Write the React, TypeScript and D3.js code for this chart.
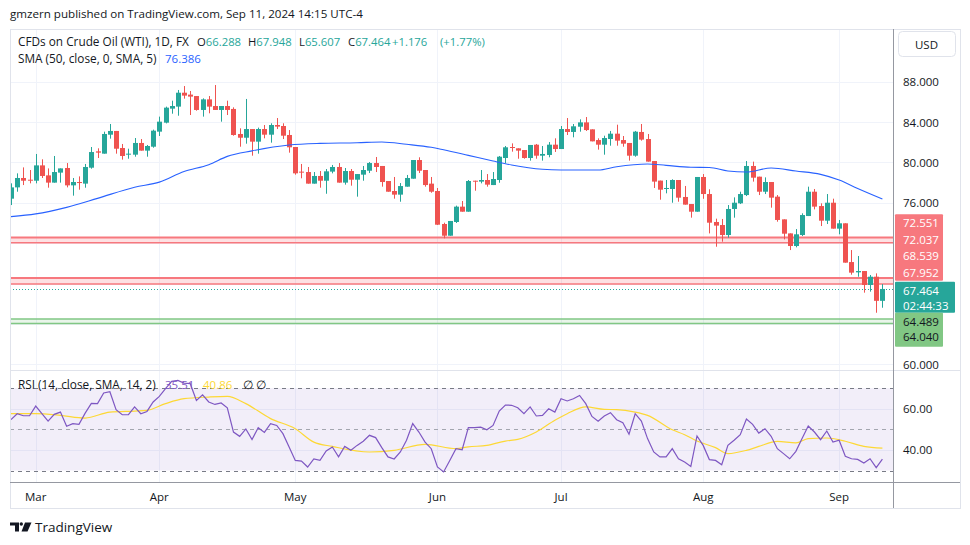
import * as d3 from "d3";

const FONT = "'Open Sans', sans-serif";
const UP = "#26a69a";
const DOWN = "#ef5350";
const TEXT = "#131722";

// trading days shown: Feb 26 – Sep 11 2024 (Good Friday closed)
const dates = d3.timeDay
  .range(new Date(2024, 1, 26), new Date(2024, 8, 12))
  .filter((d) => d.getDay() % 6 !== 0 && +d !== +new Date(2024, 2, 29));

// [open, high, low, close]
const ohlc: [number, number, number, number][] = [
  [76.41, 77.93, 75.78, 77.53], [77.53, 78.92, 77.1, 78.46], [78.46, 79.51, 77.76, 78.19], [78.29, 79.25, 77.93, 78.19],
  [78.19, 80.84, 77.93, 79.71], [79.71, 80.31, 78.46, 78.66], [78.72, 79.41, 77.5, 78.0], [78.0, 80.64, 78.0, 79.05],
  [78.99, 79.41, 78.0, 79.41], [79.45, 79.94, 77.53, 77.73], [77.73, 78.46, 76.71, 78.06], [78.06, 78.62, 77.3, 77.96],
  [77.9, 79.85, 77.5, 79.55], [79.48, 81.53, 79.38, 81.03], [81.1, 81.4, 80.44, 80.97], [80.87, 83.05, 80.87, 82.82],
  [82.75, 83.81, 82.36, 83.12], [83.12, 83.12, 80.87, 81.36], [81.43, 81.83, 80.28, 80.64], [80.77, 81.36, 80.37, 80.87],
  [80.77, 82.42, 80.57, 81.93], [81.93, 82.32, 81.17, 81.17], [81.17, 81.73, 80.57, 81.63], [81.56, 83.25, 81.46, 83.15],
  [83.05, 84.54, 82.62, 84.04], [83.94, 85.53, 83.87, 85.43], [85.33, 86.12, 84.83, 85.59], [85.53, 87.18, 84.63, 86.91],
  [86.91, 87.57, 86.32, 86.62], [86.72, 87.08, 84.7, 86.52], [86.58, 86.58, 85.13, 85.2], [85.2, 86.35, 84.54, 86.25],
  [86.25, 86.58, 84.87, 85.53], [85.59, 87.67, 85.2, 85.2], [85.2, 85.59, 84.04, 85.59], [85.59, 86.12, 84.7, 85.2],
  [85.3, 85.46, 82.65, 82.72], [82.82, 83.38, 81.56, 82.45], [82.45, 86.29, 81.86, 83.31], [83.31, 83.31, 80.67, 82.06],
  [82.06, 83.45, 80.87, 83.31], [83.31, 83.71, 82.39, 82.75], [82.75, 83.88, 81.96, 83.71], [83.71, 84.4, 83.31, 83.55],
  [83.61, 83.88, 82.32, 82.65], [82.72, 83.21, 80.97, 81.5], [81.53, 81.53, 78.79, 78.92], [79.09, 79.85, 78.43, 78.99],
  [79.05, 79.55, 77.9, 77.9], [77.9, 79.05, 77.9, 78.66], [78.66, 79.15, 77.5, 78.19], [78.19, 79.35, 76.9, 79.12],
  [79.09, 79.75, 78.92, 79.55], [79.55, 79.94, 78.0, 78.0], [78.0, 79.45, 77.8, 79.15], [79.15, 79.35, 77.7, 78.29],
  [78.29, 78.85, 76.61, 78.85], [78.79, 79.65, 78.19, 79.25], [79.18, 80.04, 78.95, 79.94], [79.94, 80.54, 79.05, 79.55],
  [79.65, 79.65, 77.6, 78.06], [78.16, 78.16, 77.1, 77.1], [77.17, 78.56, 76.41, 76.81], [76.81, 77.96, 76.11, 77.66],
  [77.6, 78.76, 77.6, 78.46], [78.39, 80.24, 78.39, 80.24], [80.24, 80.51, 78.95, 79.18], [79.25, 79.25, 77.6, 77.76],
  [77.9, 78.56, 77.0, 77.1], [77.17, 77.47, 73.8, 73.83], [73.9, 74.03, 72.48, 72.74], [72.74, 74.2, 72.74, 74.2],
  [74.1, 75.72, 74.0, 75.62], [75.62, 76.18, 75.12, 75.12], [75.12, 78.26, 75.12, 78.16], [78.19, 78.19, 77.2, 78.13],
  [78.1, 79.25, 77.93, 78.26], [78.26, 78.85, 77.6, 77.8], [77.76, 79.05, 77.76, 78.36], [78.26, 80.64, 77.99, 80.57],
  [80.44, 81.63, 79.91, 81.5], [81.53, 81.89, 81.07, 81.43], [81.4, 81.4, 80.37, 81.17], [81.23, 81.23, 80.37, 80.44],
  [80.44, 81.73, 80.18, 81.73], [81.76, 81.83, 80.37, 80.67], [80.67, 81.63, 80.18, 80.84], [80.74, 82.02, 80.51, 81.76],
  [81.76, 82.39, 81.04, 81.33], [81.33, 83.61, 81.33, 83.31], [83.31, 84.4, 82.72, 83.02], [83.02, 83.81, 82.49, 83.58],
  [83.54, 84.27, 83.05, 83.97], [83.97, 84.5, 83.12, 83.21], [83.28, 83.28, 82.09, 82.09], [82.22, 82.39, 81.27, 81.76],
  [81.76, 82.65, 80.77, 82.42], [82.32, 83.12, 81.66, 82.85], [82.85, 83.74, 81.66, 82.16], [82.22, 82.62, 81.56, 81.86],
  [81.93, 81.93, 80.18, 80.67], [80.67, 83.12, 80.57, 83.05], [83.02, 83.81, 82.16, 82.26], [82.32, 82.82, 80.08, 80.08],
  [80.14, 80.14, 77.47, 78.1], [78.2, 78.2, 76.31, 77.3], [77.37, 78.26, 76.94, 77.47], [77.37, 78.33, 76.01, 78.26],
  [78.26, 78.26, 76.11, 76.51], [76.58, 77.67, 75.82, 75.82], [75.88, 75.88, 74.53, 75.12], [75.12, 78.56, 75.12, 78.56],
  [78.56, 78.85, 76.4, 76.87], [76.87, 77.34, 72.97, 74.03], [74.1, 74.43, 71.65, 73.74], [73.8, 74.4, 72.15, 72.81],
  [72.81, 75.78, 72.55, 75.39], [75.39, 76.54, 74.53, 76.01], [75.95, 77.1, 75.88, 76.87], [76.77, 80.14, 76.67, 79.65],
  [79.65, 80.08, 78.1, 78.49], [78.59, 78.59, 76.77, 77.1], [77.1, 78.52, 76.87, 78.06], [78.06, 78.06, 75.52, 76.51],
  [76.61, 76.77, 74.13, 74.3], [74.36, 74.36, 72.38, 72.94], [72.97, 72.97, 71.32, 71.72], [71.72, 73.4, 71.59, 72.88],
  [72.81, 74.96, 72.71, 74.79], [74.69, 77.6, 74.69, 77.1], [77.1, 77.37, 75.35, 75.62], [75.68, 75.95, 73.7, 74.23],
  [74.23, 76.87, 73.9, 76.01], [76.01, 76.41, 73.44, 73.44], [73.44, 74.3, 72.88, 73.97], [73.97, 73.97, 70.07, 70.07],
  [70.13, 71.32, 68.88, 69.08], [69.11, 70.73, 68.68, 69.24], [69.24, 69.24, 67.1, 67.86], [67.86, 68.85, 67.2, 68.68],
  [68.68, 69.01, 65.11, 66.288], [66.288, 67.948, 65.607, 67.464],
];

// SMA(50): [bar index, value]
const sma50: [number, number][] = [
  [0, 74.63], [4, 74.9], [9, 75.55], [14, 76.44], [20, 77.55], [24, 78.05], [28, 79.1], [32, 79.78],
  [35, 80.6], [39, 81.15], [45, 81.73], [50, 81.89], [56, 81.95], [60, 82.03], [64, 81.8], [68, 81.5],
  [70, 81.25], [74, 80.7], [78, 80.14], [81, 79.75], [86, 79.32], [89, 79.25], [95, 79.25], [98, 79.58],
  [103, 79.85], [106, 79.71], [110, 79.52], [113, 79.5], [116, 79.15], [119, 79.05], [123, 79.45],
  [127, 79.15], [131, 78.82], [134, 78.26], [137, 77.43], [141, 76.386],
];

const rsi = [
  54.7, 57.6, 56.6, 56.6, 61.3, 57.6, 54.0, 57.3, 58.4, 51.5,
  52.8, 52.4, 57.9, 62.6, 62.5, 67.7, 68.3, 59.6, 57.1, 57.1,
  60.9, 57.6, 58.7, 63.3, 66.0, 69.8, 73.3, 73.8, 72.5, 72.2,
  64.1, 66.8, 63.3, 62.1, 62.8, 60.5, 48.7, 46.6, 50.2, 45.1,
  50.8, 48.5, 52.8, 51.9, 47.9, 41.4, 34.9, 34.6, 31.7, 35.6,
  34.9, 39.5, 41.4, 36.6, 41.7, 39.8, 42.2, 44.2, 47.1, 46.0,
  41.1, 36.6, 35.6, 39.0, 44.7, 52.8, 48.7, 43.8, 40.6, 31.7,
  29.3, 34.9, 40.6, 40.1, 50.8, 50.8, 51.1, 49.8, 51.9, 58.9,
  61.8, 61.7, 60.5, 57.6, 60.9, 56.5, 56.8, 60.0, 58.4, 64.9,
  63.8, 64.9, 66.5, 62.5, 56.3, 54.0, 56.5, 58.1, 54.7, 53.2,
  47.6, 57.6, 54.0, 45.5, 39.0, 36.6, 36.6, 40.6, 35.7, 34.1,
  32.0, 46.8, 42.2, 35.3, 34.9, 32.8, 42.2, 44.7, 47.4, 55.0,
  52.4, 48.2, 50.3, 46.6, 40.6, 38.2, 35.7, 39.3, 45.5, 51.6,
  48.7, 45.0, 49.2, 43.8, 44.7, 36.9, 35.7, 35.4, 33.6, 35.7,
  31.4, 35.51,
];

// RSI smoothing line: [bar index, value]
const rsiMa: [number, number][] = [
  [0, 57.6], [4, 57.6], [8, 56.8], [12, 55.5], [16, 58.4], [20, 58.9], [22, 59.2], [25, 62.5],
  [28, 64.9], [32, 65.7], [35, 66.0], [38, 62.5], [42, 55.2], [46, 50.3], [49, 43.8], [52, 41.7],
  [58, 39.0], [62, 39.8], [67, 42.7], [72, 40.6], [74, 41.5], [77, 42.2], [80, 44.3], [82, 45.1],
  [85, 48.7], [88, 54.4], [90, 57.6], [93, 60.9], [96, 59.7], [98, 59.6], [101, 58.4], [103, 56.8],
  [107, 49.8], [109, 47.4], [111, 44.3], [114, 41.1], [116, 38.2], [119, 39.8], [121, 41.7],
  [124, 44.2], [127, 43.4], [129, 45.5], [132, 45.8], [135, 44.2], [138, 41.7], [141, 40.86],
];

const priceTicks = [88, 84, 80, 76, 60];
const priceGrid = [88, 84, 80, 76, 72, 68, 64, 60];
const redBands: [number, number][] = [[72.551, 72.037], [68.539, 67.952]];
const greenBand: [number, number] = [64.489, 64.04];
const redLabels = ["72.551", "72.037", "68.539", "67.952"];
const greenLabels = ["64.489", "64.040"];
const lastPrice = 67.464;
const countdown = "02:44:33";
const rsiTicks = [60, 40];
const rsiLevels = [70, 50, 30];

export default function App() {
  const L = 10, R = 893, T = 29, PANE = 370, AX = 482.5, B = 508, FR = 960;

  const x = d3.scaleLinear().domain([0, dates.length - 1]).range([11, 882.4]);
  const y = d3.scaleLinear().domain([60, 88]).range([364.3, 81.7]);
  const ry = d3.scaleLinear().domain([30, 70]).range([470.5, 388.2]);
  const crisp = (v: number) => Math.round(v) + 0.5;

  const months = dates
    .map((d, i) => ({ d, i }))
    .filter(({ d, i }) => i > 0 && d.getMonth() !== dates[i - 1].getMonth());
  const fmt = d3.timeFormat("%b");

  const smaPath = d3.line<[number, number]>().x((d) => x(d[0])).y((d) => y(d[1])).curve(d3.curveMonotoneX)(sma50) || "";
  const rsiPath = d3.line<number>().x((_, i) => x(i)).y((d) => ry(d))(rsi) || "";
  const rsiMaPath = d3.line<[number, number]>().x((d) => x(d[0])).y((d) => ry(d[1])).curve(d3.curveMonotoneX)(rsiMa) || "";

  return (
    <svg width={970} height={545} style={{ position: "absolute", left: 0, top: 0, background: "#fff" }} fontFamily={FONT}>
      <defs>
        <clipPath id="main"><rect x={L} y={T} width={R - L} height={PANE - T} /></clipPath>
        <clipPath id="osc"><rect x={L} y={PANE} width={R - L} height={AX - PANE} /></clipPath>
      </defs>

      <text x={10} y={18} fontSize={11.6} fill={TEXT}>gmzern published on TradingView.com, Sep 11, 2024 14:15 UTC-4</text>

      {/* grid */}
      {priceGrid.map((p) => (
        <line key={p} x1={L} x2={R} y1={crisp(y(p))} y2={crisp(y(p))} stroke="#f0f3fa" />
      ))}
      {rsiTicks.map((v) => (
        <line key={v} x1={L} x2={R} y1={crisp(ry(v))} y2={crisp(ry(v))} stroke="#f0f3fa" />
      ))}
      {months.map(({ i }) => (
        <line key={i} x1={crisp(x(i))} x2={crisp(x(i))} y1={T} y2={AX} stroke="#f0f3fa" />
      ))}

      {/* price pane */}
      <g clipPath="url(#main)">
        {redBands.map(([a, b]) => (
          <g key={a}>
            <rect x={L} width={R - L} y={y(a)} height={y(b) - y(a)} fill="rgba(242,54,69,0.15)" />
            <line x1={L} x2={R} y1={y(a)} y2={y(a)} stroke="#f7787e" strokeWidth={2} />
            <line x1={L} x2={R} y1={y(b)} y2={y(b)} stroke="#f7787e" strokeWidth={1.5} />
          </g>
        ))}
        <rect x={L} width={R - L} y={y(greenBand[0])} height={y(greenBand[1]) - y(greenBand[0])} fill="rgba(76,175,80,0.12)" />
        {greenBand.map((p) => (
          <line key={p} x1={L} x2={R} y1={y(p)} y2={y(p)} stroke="#81c784" strokeWidth={1.5} />
        ))}
        <line x1={L} x2={R} y1={crisp(y(lastPrice))} y2={crisp(y(lastPrice))} stroke={UP} strokeDasharray="1 2" />

        {ohlc.map(([o, h, l, c], i) => {
          const col = c >= o ? UP : DOWN;
          const cx = Math.round(x(i));
          const top = y(Math.max(o, c));
          const bh = Math.max(1, y(Math.min(o, c)) - top);
          return (
            <g key={i} fill={col} stroke="none">
              <rect x={cx} y={y(h)} width={1} height={y(l) - y(h)} />
              <rect x={cx - 2} y={top} width={5} height={bh} />
            </g>
          );
        })}
        <path d={smaPath} fill="none" stroke="#2962ff" strokeWidth={1.1} />
      </g>

      {/* legend */}
      <text x={18} y={46} fontSize={11.8} fill={TEXT}>CFDs on Crude Oil (WTI), 1D, FX</text>
      {[["O", "66.288", 197], ["H", "67.948", 248], ["L", "65.607", 299], ["C", "67.464", 348]].map(([k, v, px]) => (
        <text key={k as string} x={px as number} y={46} fontSize={11.3} fill={TEXT}>
          {k}<tspan fill={UP}>{v}</tspan>
        </text>
      ))}
      <text x={392} y={46} fontSize={11.3} fill={UP}>+1.176</text>
      <text x={440} y={46} fontSize={11.3} fill={UP}>(+1.77%)</text>
      <text x={18} y={63} fontSize={11.8} fill={TEXT}>SMA (50, close, 0, SMA, 5)</text>
      <text x={165} y={63} fontSize={11.5} fill="#2962ff">76.386</text>

      {/* RSI pane */}
      <g clipPath="url(#osc)">
        <rect x={L} width={R - L} y={ry(70)} height={ry(30) - ry(70)} fill="rgba(126,87,194,0.1)" />
        {rsiLevels.map((v) => (
          <line key={v} x1={L} x2={R} y1={crisp(ry(v))} y2={crisp(ry(v))}
            stroke={v === 50 ? "#a3a6af" : "#787b86"} strokeDasharray="4 4" />
        ))}
        <path d={rsiMaPath} fill="none" stroke="#fdd835" strokeWidth={1.2} />
        <path d={rsiPath} fill="none" stroke="#7e57c2" strokeWidth={1.2} />
      </g>
      <text x={18} y={389} fontSize={11.8} fill={TEXT}>RSI (14, close, SMA, 14, 2)</text>
      <text x={165} y={389} fontSize={11.5} fill="#7e57c2">35.51</text>
      <text x={203} y={389} fontSize={11.5} fill="#fdd835">40.86</text>
      <text x={243} y={389} fontSize={11.5} fill={TEXT}>∅</text>
      <text x={256} y={389} fontSize={11.5} fill={TEXT}>∅</text>

      {/* frame and separators */}
      <rect x={10.5} y={T + 0.5} width={FR - 10} height={B - T} fill="none" stroke="#e0e3eb" />
      <line x1={L} x2={FR} y1={PANE + 0.5} y2={PANE + 0.5} stroke="#e0e3eb" />
      <line x1={L} x2={FR} y1={AX} y2={AX} stroke="#9598a1" />
      <line x1={R + 0.5} x2={R + 0.5} y1={T} y2={B} stroke="#9598a1" />

      {/* price axis */}
      <rect x={898.5} y={31.5} width={57} height={25} rx={4} fill="#fff" stroke="#e0e3eb" />
      <text x={926.5} y={44} fontSize={11.5} fill={TEXT} textAnchor="middle" dominantBaseline="central">USD</text>
      {priceTicks.map((p) => (
        <text key={p} x={903} y={y(p)} fontSize={11.5} fill={TEXT} dominantBaseline="central">{p.toFixed(3)}</text>
      ))}
      <rect x={895} y={214.3} width={48} height={66.4} fill="#f7787e" rx={1} />
      {redLabels.map((s, i) => (
        <text key={s} x={903} y={222.7 + i * 16.6} fontSize={11.5} fill="#fff" dominantBaseline="central">{s}</text>
      ))}
      <rect x={895} y={281.7} width={60} height={31} fill={UP} rx={1} />
      <text x={903} y={290.5} fontSize={11.5} fill="#fff" dominantBaseline="central">{lastPrice.toFixed(3)}</text>
      <text x={903} y={305.5} fontSize={11.5} fill="#fff" dominantBaseline="central">{countdown}</text>
      <rect x={895} y={312.7} width={48} height={34} fill="#81c784" rx={1} />
      {greenLabels.map((s, i) => (
        <text key={s} x={903} y={321 + i * 15.5} fontSize={11.5} fill={TEXT} dominantBaseline="central">{s}</text>
      ))}
      {rsiTicks.map((v) => (
        <text key={v} x={903} y={ry(v)} fontSize={11.5} fill={TEXT} dominantBaseline="central">{v.toFixed(2)}</text>
      ))}

      {/* time axis */}
      {months.map(({ d, i }) => (
        <text key={i} x={x(i)} y={496} fontSize={11.5} fill={TEXT} textAnchor="middle" dominantBaseline="central">{fmt(d)}</text>
      ))}

      {/* logo */}
      <g fill={TEXT}>
        <path d="M10 522.5 H19 V531.5 H15 V525.5 H10 Z" />
        <circle cx={21.3} cy={524} r={1.7} />
        <path d="M25 522.5 H31.5 L27.5 531.5 H21.5 Z" />
      </g>
      <text x={35} y={527} fontSize={13.5} fill={TEXT} dominantBaseline="central">TradingView</text>
    </svg>
  );
}
